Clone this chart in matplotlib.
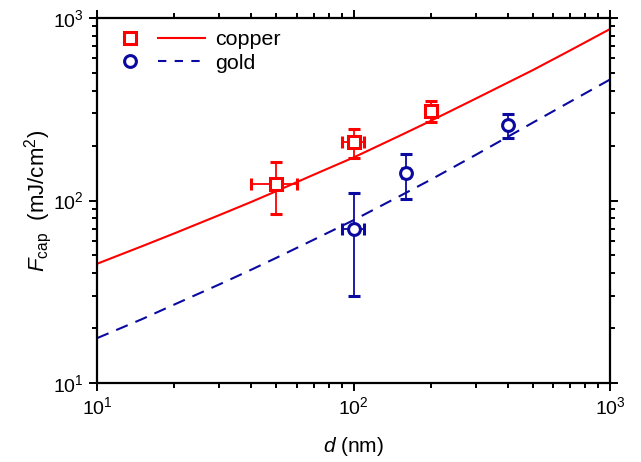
import matplotlib
matplotlib.use("Agg")
import matplotlib.pyplot as plt
from matplotlib.lines import Line2D
from matplotlib.legend_handler import HandlerTuple
from matplotlib.ticker import LogLocator, NullFormatter

plt.rcParams['font.family'] = ['Liberation Sans', 'DejaVu Sans']
plt.rcParams['mathtext.fontset'] = 'custom'
plt.rcParams['mathtext.rm'] = 'Liberation Sans'
plt.rcParams['mathtext.it'] = 'Liberation Sans:italic'
plt.rcParams['mathtext.bf'] = 'Liberation Sans:bold'

# Model curves
d_curve = [10, 15, 20, 30, 40, 50, 70, 100, 150, 200, 300, 500, 700, 1000]
copper_curve = [45, 56.2, 66, 83.2, 98.3, 112.5, 138.5, 172, 225, 273, 362, 518, 665, 870]
gold_curve = [17.6, 22.4, 26.9, 34.7, 41.8, 48.5, 61, 78, 105, 130, 178, 267, 348, 460]

# Measured points
copper_d = [50, 100, 200]
copper_F = [123, 210, 310]
copper_dx = [10, 10, 8]
copper_dF = [39, 38, 40]

gold_d = [100, 160, 400]
gold_F = [70, 141, 260]
gold_dx = [10, 5, 8]
gold_dF = [40, 39, 39]

RED = '#FF0000'
BLUE = '#0A0AA0'

fig = plt.figure(figsize=(6.41, 4.62), dpi=100)
ax = fig.add_axes([97/641, 1-383/462, (610-97)/641, (383-18)/462])

ax.plot(d_curve, copper_curve, color=RED, lw=1.5, ls='-')
ax.plot(d_curve, gold_curve, color=BLUE, lw=1.5, ls=(0, (6, 4)))

ax.errorbar(copper_d, copper_F, xerr=copper_dx, yerr=copper_dF, fmt='s',
            mfc='white', mec=RED, mew=2.2, ms=8, ecolor=RED, elinewidth=1.3,
            capsize=4.5, capthick=1.3, zorder=3)
ax.errorbar(gold_d, gold_F, xerr=gold_dx, yerr=gold_dF, fmt='o',
            mfc='white', mec=BLUE, mew=2.2, ms=8.5, ecolor=BLUE, elinewidth=1.3,
            capsize=4.5, capthick=1.3, zorder=3)

ax.set_xscale('log')
ax.set_yscale('log')
ax.set_xlim(10, 1000)
ax.set_ylim(10, 1000)

for s in ax.spines.values():
    s.set_linewidth(1.6)
ax.tick_params(which='both', direction='out', top=True, right=True,
               labelsize=14, width=1.4)
ax.tick_params(which='major', length=6)
ax.tick_params(which='minor', length=3.5)
ax.xaxis.set_minor_locator(LogLocator(base=10, subs=range(2, 10)))
ax.yaxis.set_minor_locator(LogLocator(base=10, subs=range(2, 10)))
ax.xaxis.set_minor_formatter(NullFormatter())
ax.yaxis.set_minor_formatter(NullFormatter())

ax.set_xlabel(r'$d$ (nm)', fontsize=15, labelpad=12)
ax.set_ylabel(r'$F_{\mathrm{cap}}$  (mJ/cm$^2$)', fontsize=16, labelpad=-1)

h_cu = (Line2D([], [], marker='s', ls='none', mfc='white', mec=RED, mew=2.2, ms=8),
        Line2D([], [], color=RED, lw=1.5))
h_au = (Line2D([], [], marker='o', ls='none', mfc='white', mec=BLUE, mew=2.2, ms=8.5),
        Line2D([], [], color=BLUE, lw=1.5, ls=(0, (4, 4))))
ax.legend([h_cu, h_au], ['copper', 'gold'],
          handler_map={tuple: HandlerTuple(ndivide=None, pad=0.21)},
          loc='upper left', bbox_to_anchor=(0.0185, 0.966), frameon=False,
          borderaxespad=0, borderpad=0,
          fontsize=15.4, handlelength=4.6, handletextpad=0.47, labelspacing=0.21)

fig.savefig('out.png', dpi=100)
